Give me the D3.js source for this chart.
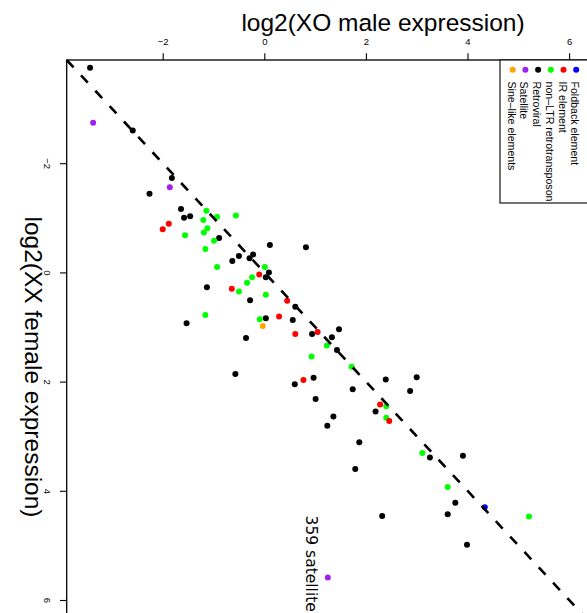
<!DOCTYPE html>
<html>
<head>
<meta charset="utf-8">
<script src="https://cdn.jsdelivr.net/npm/d3@7"></script>
<style>
  html, body { margin: 0; padding: 0; background: #fff; }
  svg { display: block; font-family: "Liberation Sans", Arial, Helvetica, sans-serif; }
</style>
</head>
<body>
<svg id="chart" width="587" height="613"></svg>
<script>
// Repeat families: log2 expression in XO males (horizontal) and XX females (vertical)
const categories = ["Foldback element", "IR element", "non\u2013LTR retrotransposon",
                    "Retroviral", "Satellite", "Sine\u2013like elements"];
const categoryColors = ["#0000FF", "#FF0000", "#00FF00", "#000000", "#A020F0", "#FFA500"];
const tickValues = [-2, 0, 2, 4, 6];

const foldbackMale   = [4.34];
const foldbackFemale = [4.30];

const irMale   = [-1.88, -2.00, -0.10, -0.64, 0.45, 0.29, 0.61, 1.05, 0.77, 2.28, 2.46];
const irFemale = [-0.89, -0.79, 0.04, 0.30, 0.52, 0.81, 1.13, 1.09, 1.97, 2.42, 2.72];

const nonLtrMale   = [-1.14, -0.93, -0.56, -1.20, -1.12, -1.19, -1.56, -0.99, -1.16, -0.93,
                      0.01, -0.24, -0.34, -0.50, 0.03, -1.16, -0.09, 1.23, 0.93, 1.72,
                      2.40, 2.40, 3.11, 3.61, 5.21];
const nonLtrFemale = [-1.13, -1.02, -1.04, -0.96, -0.81, -0.73, -0.68, -0.58, -0.43, -0.10,
                      -0.10, 0.09, 0.19, 0.35, 0.41, 0.78, 0.86, 1.34, 1.54, 1.73,
                      2.45, 2.66, 3.31, 3.93, 4.47];

const retroviralMale   = [-3.43, -2.59, -1.82, -2.26, -1.64, -1.58, -1.46, -0.89, 0.11, 0.82,
                          -0.50, -0.63, -0.29, -0.22, 0.09, 0.03, -1.13, -0.28, 0.61, -1.53,
                          0.03, 0.56, -0.36, 0.94, 1.47, 1.33, 1.43, -0.57, 0.60, 0.97,
                          1.01, 2.39, 3.00, 2.87, 1.74, 2.19, 1.36, 1.24, 1.87, 3.26,
                          3.91, 1.79, 3.76, 3.61, 2.32, 3.99];
const retroviralFemale = [-3.75, -2.60, -1.73, -1.44, -1.16, -1.00, -1.03, -0.63, -0.50, -0.46,
                          -0.30, -0.21, -0.26, -0.33, 0.00, 0.09, 0.27, 0.51, 0.63, 0.93,
                          0.84, 0.87, 1.20, 1.13, 1.04, 1.19, 1.42, 1.86, 2.05, 1.93,
                          2.32, 1.96, 1.92, 2.17, 2.14, 2.55, 2.64, 2.81, 3.11, 3.39,
                          3.36, 3.60, 4.22, 4.43, 4.46, 4.99];

const satelliteMale   = [-3.37, -1.86, 1.25];
const satelliteFemale = [-2.74, -1.56, 5.59];

const sineMale   = [-0.03];
const sineFemale = [0.98];

// Value pairs per family, drawn in the same order as the series above
const series = [
  { name: categories[3], color: categoryColors[3], male: retroviralMale, female: retroviralFemale },
  { name: categories[2], color: categoryColors[2], male: nonLtrMale,     female: nonLtrFemale },
  { name: categories[1], color: categoryColors[1], male: irMale,         female: irFemale },
  { name: categories[4], color: categoryColors[4], male: satelliteMale,  female: satelliteFemale },
  { name: categories[5], color: categoryColors[5], male: sineMale,       female: sineFemale },
  { name: categories[0], color: categoryColors[0], male: foldbackMale,   female: foldbackFemale }
];

const labelledSatellite = { male: satelliteMale[2], female: satelliteFemale[2], text: "359 satellite" };

const svg = d3.select("#chart");
const lo = -3.89, hi = 6.5;

const x = d3.scaleLinear().domain([lo, hi]).range([66.7, 66.7 + (hi - lo) * 50.8]);
const y = d3.scaleLinear().domain([lo, hi]).range([60, 60 + (hi - lo) * 54.6]);

const fmt = d => d < 0 ? "\u2212" + Math.abs(d) : String(d);

// Points
series.forEach(s => {
  svg.append("g").selectAll("circle")
    .data(s.male.map((m, i) => [m, s.female[i]]))
    .join("circle")
    .attr("cx", d => x(d[0]))
    .attr("cy", d => y(d[1]))
    .attr("r", 3)
    .attr("fill", s.color);
});

// y = x reference line
svg.append("line")
  .attr("x1", x(lo)).attr("y1", y(lo))
  .attr("x2", x(hi)).attr("y2", y(hi))
  .attr("stroke", "#000")
  .attr("stroke-width", 2.6)
  .attr("stroke-dasharray", "10,11");

// Plot frame
svg.append("rect")
  .attr("x", x(lo)).attr("y", y(lo))
  .attr("width", x(hi) - x(lo)).attr("height", y(hi) - y(lo))
  .attr("fill", "none").attr("stroke", "#000").attr("stroke-width", 1.3);

// Top axis (XO male)
const topAxis = svg.append("g")
  .attr("transform", `translate(0,${y(lo)})`)
  .call(d3.axisTop(x).tickValues(tickValues).tickSize(6.7).tickSizeOuter(0).tickPadding(8).tickFormat(fmt));
topAxis.select(".domain").remove();
topAxis.selectAll("line").attr("stroke-width", 1.1);
topAxis.selectAll("text").attr("font-size", 9.5).attr("font-family", "Liberation Sans, Arial, sans-serif");

// Left axis (XX female), labels turned along the axis
const leftAxis = svg.append("g")
  .attr("transform", `translate(${x(lo)},0)`)
  .call(d3.axisLeft(y).tickValues(tickValues).tickSize(6.7).tickSizeOuter(0).tickFormat(fmt));
leftAxis.select(".domain").remove();
leftAxis.selectAll("line").attr("stroke-width", 1.1);
leftAxis.selectAll("text")
  .attr("x", null).attr("dy", null)
  .attr("transform", "translate(-19.5,0) rotate(90)")
  .attr("text-anchor", "middle")
  .attr("dominant-baseline", "central")
  .attr("font-size", 9.5)
  .attr("font-family", "Liberation Sans, Arial, sans-serif");

// Axis titles
svg.append("text")
  .attr("x", 383).attr("y", 31)
  .attr("text-anchor", "middle")
  .attr("font-size", 24.5)
  .text("log2(XO male expression)");

svg.append("text")
  .attr("transform", "translate(25,367) rotate(90)")
  .attr("text-anchor", "middle")
  .attr("font-size", 24.5)
  .text("log2(XX female expression)");

// Annotation next to the outlying satellite
svg.append("text")
  .attr("transform", `translate(${x(labelledSatellite.male) - 17},${y(labelledSatellite.female) - 62}) rotate(90)`)
  .attr("text-anchor", "start")
  .attr("dominant-baseline", "central")
  .attr("font-family", "DejaVu Sans, sans-serif")
  .attr("font-size", 15.5)
  .text(labelledSatellite.text);

// Legend
const legend = svg.append("g");
legend.append("rect")
  .attr("x", 500).attr("y", y(lo))
  .attr("width", 120).attr("height", 203 - y(lo))
  .attr("fill", "#fff").attr("stroke", "#000").attr("stroke-width", 1.1);

const legendOrder = [5, 4, 3, 2, 1, 0];
legendOrder.forEach((ci, k) => {
  const cx = 512.7 + k * 12.7;
  legend.append("circle")
    .attr("cx", cx).attr("cy", 69.7).attr("r", 3)
    .attr("fill", categoryColors[ci]);
  legend.append("text")
    .attr("transform", `translate(${cx - 1},81.5) rotate(90)`)
    .attr("text-anchor", "start")
    .attr("dominant-baseline", "central")
    .attr("font-size", 10.6)
    .text(categories[ci]);
});
</script>
</body>
</html>
